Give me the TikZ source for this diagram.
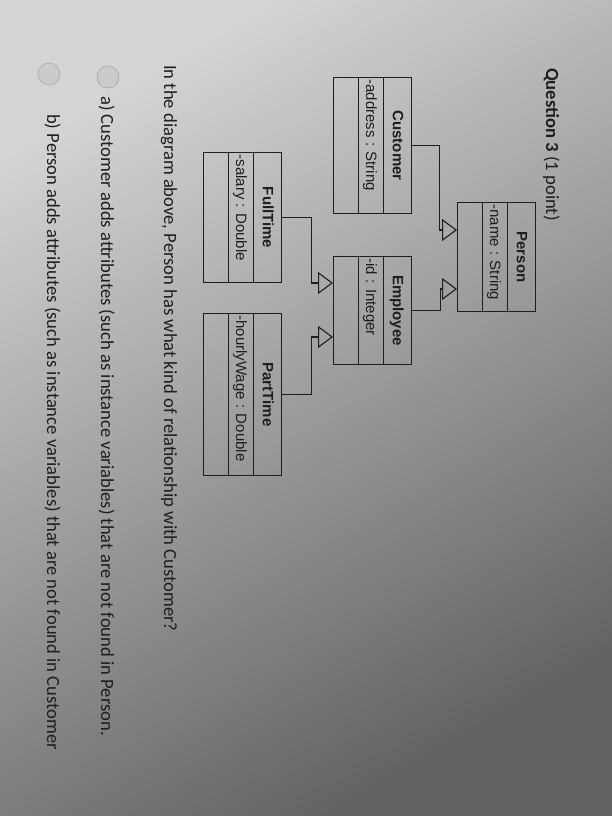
\documentclass[tikz,border=0pt]{standalone}
\usepackage{fontspec}
\setmainfont{Carlito}
\newfontfamily\umlfont{Liberation Sans}
\usetikzlibrary{shapes.multipart, arrows.meta, calc}

\definecolor{ink}{HTML}{1E1E1E}
\definecolor{screenlight}{HTML}{D4D4D4}
\definecolor{screenmid}{HTML}{B8B8B8}
\definecolor{screendark}{HTML}{626262}
\definecolor{radiofill}{HTML}{CBCBCB}
\definecolor{radioedge}{HTML}{B2B2B2}

\tikzset{
  umlclass/.style={draw=ink, line width=1.1pt, rectangle split, rectangle split parts=3,
    rectangle split part align={center,left,left}, inner xsep=2pt, inner ysep=0pt,
    anchor=south west, text=ink, font=\umlfont\fontsize{15}{18}\selectfont},
  inherit/.style={draw=ink, line width=1.1pt, -{Triangle[open, length=15pt, width=22pt]}},
  qtext/.style={anchor=base west, inner sep=0pt, text=ink, font=\fontsize{18.6}{22}\selectfont},
  radio/.style={circle, fill=radiofill, draw=radioedge, line width=0.8pt, minimum size=22pt, inner sep=0pt}
}
\newcommand{\tstrut}{\rule[-8.5pt]{0pt}{27pt}}
\newcommand{\astrut}{\rule[-7pt]{0pt}{24pt}}

\begin{document}
\begin{tikzpicture}
% photographed screen
\shade[top color=screenlight, middle color=screenmid, bottom color=screendark, shading angle=30]
  (0,0) rectangle (612pt,-816pt);
\useasboundingbox (0,0) rectangle (612pt,-816pt);

% the page is photographed turned a quarter turn
\begin{scope}[rotate=-90, transform shape, x=1pt, y=1pt]
\node[qtext] (title) at (68,546) {\textbf{Question 3} (1 point)};

% classes
\node[umlclass, minimum width=136pt] (customer) at (77,333)
  {\tstrut\textbf{Customer}\nodepart{two}\astrut-address : String\nodepart{three}\astrut};
\node[umlclass, minimum width=109pt] (person) at (202,457)
  {\tstrut\textbf{Person}\nodepart{two}\astrut-name : String\nodepart{three}\astrut};
\node[umlclass, minimum width=108pt] (employee) at (256,333)
  {\tstrut\textbf{Employee}\nodepart{two}\astrut-id : Integer\nodepart{three}\astrut};
\node[umlclass, minimum width=130pt] (fulltime) at (152,203)
  {\tstrut\textbf{FullTime}\nodepart{two}\astrut-salary : Double\nodepart{three}\astrut};
\node[umlclass, minimum width=162pt] (parttime) at (313,203)
  {\tstrut\textbf{PartTime}\nodepart{two}\astrut-hourlyWage : Double\nodepart{three}\astrut};

\coordinate (pa) at ($(person.south west)+(28,0)$);
\coordinate (pb) at ($(person.south west)+(87,0)$);
\coordinate (ea) at ($(employee.south west)+(27,0)$);
\coordinate (eb) at ($(employee.south west)+(81,0)$);

% generalisation arrows
\draw[inherit] (customer.north) -- ++(0,27) -| (pa);
\draw[inherit] (employee.north) -- ++(0,28) -| (pb);
\draw[inherit] (fulltime.north) -- ++(0,29) -| (ea);
\draw[inherit] (parttime.north) -- ++(0,29) -| (eb);

% question and choices
\node[qtext] (stem) at (65,164) {In the diagram above, Person has what kind of relationship with Customer?};
\node[radio] (ra) at (77,108) {};
\node[qtext] (opta) at (96,101) {a) Customer adds attributes (such as instance variables) that are not found in Person.};
\node[radio] (rb) at (74,49) {};
\node[qtext] (optb) at (114,47) {b) Person adds attributes (such as instance variables) that are not found in Customer};
\end{scope}
\end{tikzpicture}
\end{document}
